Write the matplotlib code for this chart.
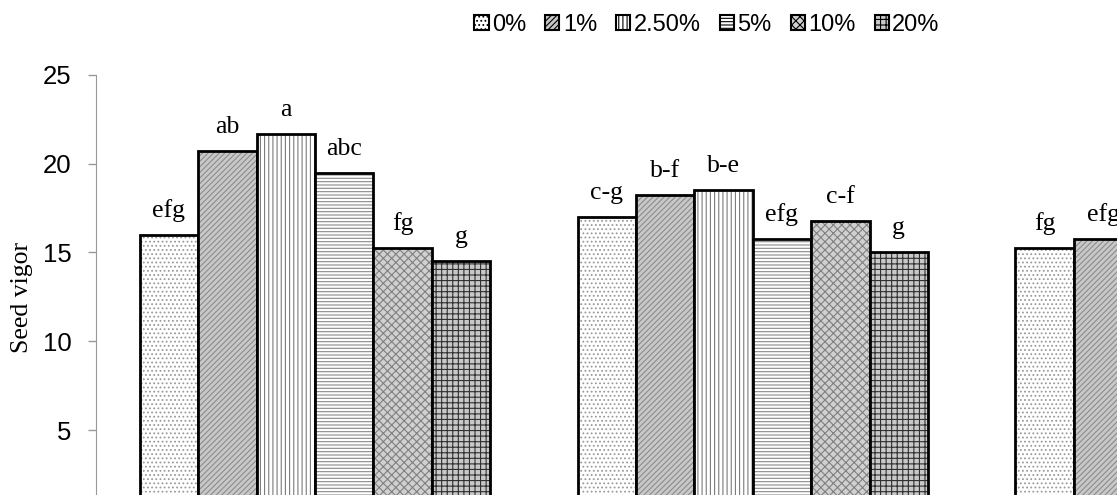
import matplotlib
matplotlib.use("Agg")
import matplotlib.pyplot as plt
from matplotlib.patches import Patch
import numpy as np

# Data (third group only partly visible, rest cut off)
groups = [0, 1, 2]
series = ["0%", "1%", "2.50%", "5%", "10%", "20%"]
values = [
    [16.0, 17.0, 15.25],
    [20.7, 18.25, 15.75],
    [21.7, 18.5, np.nan],
    [19.5, 15.75, np.nan],
    [15.25, 16.75, np.nan],
    [14.5, 15.0, np.nan],
]
letters = [
    ["efg", "c-g", "fg"],
    ["ab", "b-f", "efg"],
    ["a", "b-e", ""],
    ["abc", "efg", ""],
    ["fg", "c-f", ""],
    ["g", "g", ""],
]
y_ticks = [5, 10, 15, 20, 25]

# Pattern fills to mimic the Excel textures
faces = ["white", "#c8c8c8", "white", "white", "#d0d0d0", "#c8c8c8"]
hatches = ["....", "//////", "||||", "-----", "xxxx", "+++"]
hatch_cols = ["#9a9a9a", "#8c8c8c", "#7a7a7a", "#8a8a8a", "#808080", "#303030"]

plt.rcParams['hatch.linewidth'] = 0.8

fig = plt.figure(figsize=(11.17, 4.95), dpi=100)
ax = fig.add_axes([0.0859, -0.048, 1.176, 0.8965])

w = 0.8 / len(series)
x = np.array(groups, dtype=float)
for i, s in enumerate(series):
    pos = x + (i - 2.5) * w
    ax.bar(pos, values[i], w, color=faces[i], hatch=hatches[i],
           edgecolor=hatch_cols[i], linewidth=0)
    ax.bar(pos, values[i], w, fill=False, edgecolor="black", linewidth=2.0)
    for p, v, t in zip(pos, values[i], letters[i]):
        if np.isnan(v) or not t:
            continue
        ax.annotate(t, (p, v), xytext=(0, 13), textcoords="offset points",
                    ha="center", va="baseline", fontsize=18.5,
                    family="Liberation Serif")

ax.set_xlim(-0.5, 2.5)
ax.set_ylim(0, 25)
ax.set_yticks(y_ticks)
ax.set_xticks([])
for sp in ["top", "right", "bottom"]:
    ax.spines[sp].set_visible(False)
ax.spines["left"].set_color("#999999")
ax.tick_params(axis="y", colors="#999999", length=6, width=1, labelcolor="black",
               labelsize=18.5, pad=11.5)
for lab in ax.get_yticklabels():
    lab.set_family("Liberation Sans")

fig.text(0.02, (495 - 297) / 495, "Seed vigor", rotation=90, ha="center",
         va="center", fontsize=18.5, family="Liberation Serif")

handles = [Patch(facecolor=faces[i], hatch=hatches[i], edgecolor="black",
                 linewidth=1.5, label=s) for i, s in enumerate(series)]
fig.legend(handles=handles, loc="center", bbox_to_anchor=(0.633, 0.95), ncol=6,
           frameon=False, handlelength=0.6, handleheight=0.6,
           handletextpad=0.15, columnspacing=0.8,
           prop={"family": "Liberation Sans", "size": 17})

fig.savefig("out.png", dpi=100)
